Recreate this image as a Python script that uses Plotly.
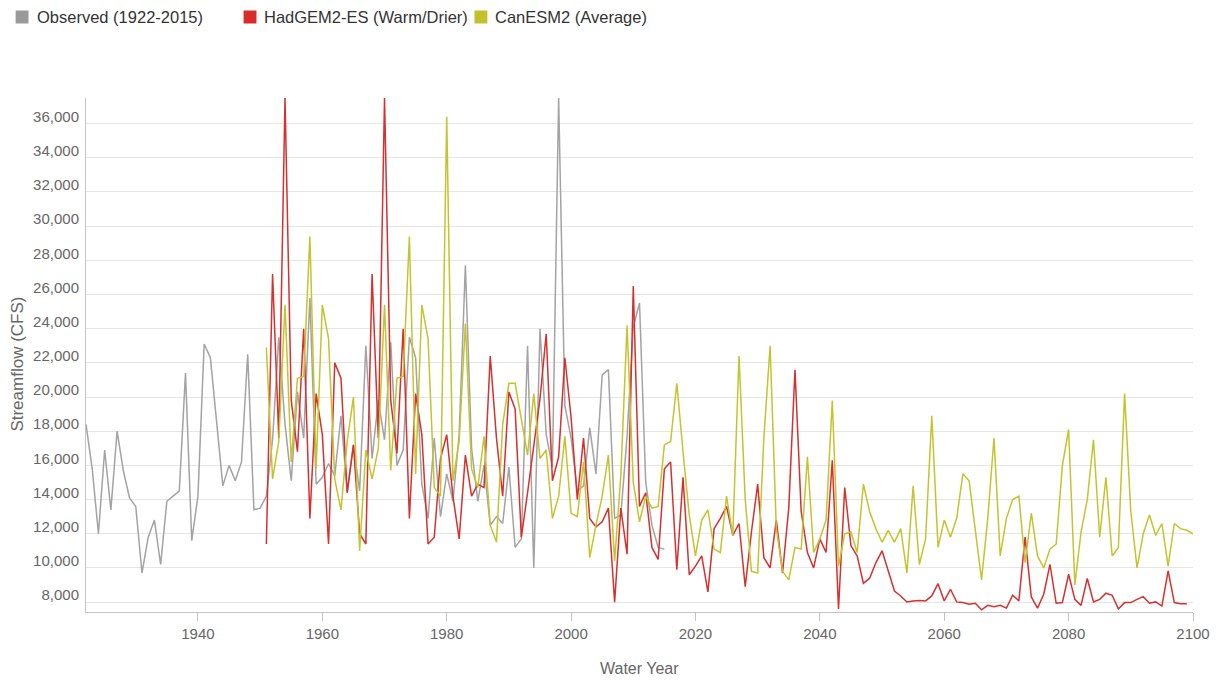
import plotly.graph_objects as go

# ---- data -----------------------------------------------------------------
obs_years = list(range(1922, 2016))
observed = [
    18400, 15800, 12000, 16900, 13400, 18000, 15700, 14100, 13600, 9700,
    11800, 12800, 10200, 13900, 14200, 14500, 21400, 11600, 14200, 23100,
    22300, 18400, 14800, 16000, 15100, 16200, 22500, 13400, 13500, 14200,
    17500, 23500, 18400, 15100, 20300, 17600, 25800, 14900, 15300, 16100,
    15400, 18900, 14400, 17200, 14500, 23000, 16400, 19800, 17500, 23200,
    16000, 16900, 23500, 22300, 14900, 12900, 17600, 13000, 15500, 13900,
    17800, 27700, 17000, 13900, 16000, 12500, 13000, 12600, 15900, 11200,
    11700, 23000, 10000, 24000, 17800, 15900, 37500, 19500, 17600, 14500,
    14800, 18200, 15500, 21300, 21600, 12900, 13100, 17700, 24100, 25500,
    15000, 12500, 11200, 11100,
]

had_years = list(range(1951, 2100))
hadgem2 = [
    11400, 27200, 17600, 37500, 19800, 16800, 24000, 12900, 20200, 17800,
    11400, 22000, 21100, 14400, 17200, 12000, 11400, 27200, 17600, 37500,
    19800, 16700, 24000, 12900, 20200, 17800, 11400, 11800, 16400, 17800,
    14200, 11700, 16600, 14200, 14900, 14700, 22400, 17600, 14200, 20300,
    19300, 11800, 14400, 17200, 19900, 23700, 15100, 16500, 22300, 18800,
    14000, 17600, 12900, 12400, 12700, 13500, 8000, 13500, 10800, 26500,
    13600, 14400, 11200, 10500, 15800, 16200, 9900, 15300, 9600, 10100,
    10700, 8600, 12300, 12900, 13600, 11900, 12600, 8900, 12100, 14900,
    10600, 10000, 12800, 9700, 13500, 21600, 13300, 10900, 10000, 11700,
    10900, 16300, 7600, 14700, 11300, 10700, 9100, 9400, 10300, 11000,
    9800, 8650, 8360, 8010, 8070, 8100, 8070, 8360, 9080, 8070,
    8750, 8010, 7970, 7870, 7930, 7550, 7810, 7730, 7810, 7650,
    8400, 8070, 11800, 8300, 7650, 8460, 10200, 7930, 7970, 9630,
    8160, 7810, 9380, 8010, 8160, 8520, 8400, 7600, 7970, 7970,
    8160, 8320, 7930, 8010, 7770, 9830, 7970, 7910, 7910,
]

can_years = list(range(1951, 2101))
canesm2 = [
    22900, 15200, 17400, 25400, 16200, 21100, 21200, 29400, 15800, 25400,
    23400, 15200, 13400, 17400, 20000, 11000, 16900, 15200, 17000, 25400,
    15700, 21100, 21200, 29400, 15500, 25400, 23400, 14700, 14200, 36400,
    15100, 17400, 24300, 15800, 14700, 17700, 12500, 11500, 18400, 20800,
    20800, 18700, 16600, 20200, 16400, 16900, 12900, 14200, 17700, 13200,
    13000, 16200, 10600, 12500, 14200, 16600, 10400, 15400, 24200, 15000,
    12700, 14200, 13500, 13600, 17200, 17400, 20800, 16800, 13100, 10700,
    12800, 13400, 11100, 10900, 14200, 11900, 22400, 14000, 9800, 9700,
    17600, 23000, 12300, 9800, 9300, 11200, 11100, 16500, 10900, 11700,
    12800, 19800, 10100, 12000, 12100, 10900, 14900, 13300, 12300, 11500,
    12200, 11500, 12300, 9700, 14800, 10200, 11700, 18900, 11200, 12800,
    11800, 12900, 15500, 15100, 12300, 9300, 12900, 17600, 10700, 12900,
    14000, 14200, 10300, 13200, 10700, 10000, 11100, 11400, 16000, 18100,
    9000, 12100, 14000, 17500, 11800, 15300, 10700, 11200, 20200, 13300,
    10000, 12000, 13100, 11900, 12600, 10100, 12600, 12300, 12200, 12000,
]

series_names = ["Observed (1922-2015)", "HadGEM2-ES (Warm/Drier)", "CanESM2 (Average)"]
x_ticks = list(range(1940, 2101, 20))
y_ticks = list(range(8000, 36001, 2000))

# ---- styling ----------------------------------------------------------------
W, H = 1222, 681
ML, MR, MT, MB = 86, 19, 98, 69
PW, PH = W - ML - MR, H - MT - MB
FONT = "Liberation Sans, Arial, sans-serif"
line_colors = ["#a3a3a3", "#d6302f", "#c4c42f"]
key_colors = ["#9a9a9a", "#d92b2b", "#c2c12b"]
axis_grey = "#c4c4c4"


def px_x(px):
    return (px - ML) / PW


def px_y(py):
    return (H - MB - py) / PH


fig = go.Figure()
for xs, ys, name, col in zip(
    [obs_years, had_years, can_years],
    [observed, hadgem2, canesm2],
    series_names,
    line_colors,
):
    fig.add_trace(
        go.Scatter(
            x=xs, y=ys, name=name, mode="lines",
            line=dict(color=col, width=1.5),
            showlegend=False,
            hovertemplate="%{x}: %{y:,}<extra>" + name + "</extra>",
        )
    )

# legend row: coloured squares followed by the series names
shapes, annotations = [], []
key_left = [15, 245, 478]
text_left = [35, 264, 497]
key_mid_y = 17
for name, col, kx, tx in zip(series_names, key_colors, key_left, text_left):
    shapes.append(dict(
        type="rect", xref="paper", yref="paper",
        x0=px_x(kx), x1=px_x(kx + 13),
        y0=px_y(key_mid_y + 6.5), y1=px_y(key_mid_y - 6.5),
        fillcolor=col, line=dict(width=0),
    ))
    annotations.append(dict(
        text=name, xref="paper", yref="paper",
        x=px_x(tx), y=px_y(key_mid_y), xanchor="left", yanchor="middle",
        showarrow=False, font=dict(family=FONT, size=16.5, color="#333333"),
    ))

annotations.append(dict(
    text="Water Year", xref="paper", yref="paper",
    x=0.5, y=px_y(668), xanchor="center", yanchor="middle",
    showarrow=False, font=dict(family=FONT, size=16, color="#666666"),
))
annotations.append(dict(
    text="Streamflow (CFS)", xref="paper", yref="paper",
    x=px_x(17), y=px_y(364), xanchor="center", yanchor="middle",
    textangle=-90, showarrow=False,
    font=dict(family=FONT, size=17, color="#666666"),
))

fig.update_layout(
    width=W, height=H,
    margin=dict(l=ML, r=MR, t=MT, b=MB, pad=0),
    paper_bgcolor="white", plot_bgcolor="white",
    font=dict(family=FONT, color="#666666"),
    shapes=shapes, annotations=annotations,
    showlegend=False,
    xaxis=dict(
        range=[1922, 2100], tickvals=x_ticks, ticks="outside", ticklen=8,
        tickcolor=axis_grey, showline=True, linecolor=axis_grey, linewidth=1,
        showgrid=False, zeroline=False,
        tickfont=dict(family=FONT, size=15, color="#666666"),
    ),
    yaxis=dict(
        range=[7420, 37500], tickvals=y_ticks, tickformat=",",
        showgrid=True, gridcolor="#e6e6e6", gridwidth=1,
        showline=True, linecolor=axis_grey, linewidth=1,
        zeroline=False, ticks="", ticklabelstandoff=3, ticklabelshift=-7,
        tickfont=dict(family=FONT, size=15, color="#666666"),
    ),
)

fig.write_html("out.html")
